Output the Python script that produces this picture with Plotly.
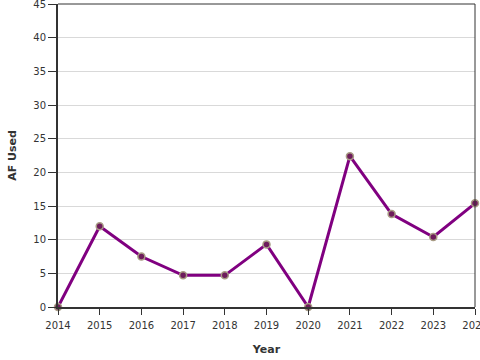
import plotly.graph_objects as go

years = [2014, 2015, 2016, 2017, 2018, 2019, 2020, 2021, 2022, 2023, 2024]
af_used = [0, 12.0, 7.5, 4.7, 4.7, 9.3, 0, 22.4, 13.8, 10.4, 15.4]
y_ticks = [0, 5, 10, 15, 20, 25, 30, 35, 40, 45]

fig = go.Figure()
fig.add_trace(go.Scatter(
    x=years, y=af_used, mode="lines+markers",
    line=dict(color="#800080", width=3),
    marker=dict(size=7, color="#6e1c5c", line=dict(color="#a89c84", width=1.5)),
    cliponaxis=False, hoverinfo="x+y",
))

font = "DejaVu Sans, Verdana, sans-serif"
fig.update_layout(
    width=480, height=360,
    margin=dict(l=58, r=5, t=4, b=53, autoexpand=False),
    paper_bgcolor="white", plot_bgcolor="white",
    showlegend=False,
    font=dict(family=font, size=10, color="#333"),
    xaxis=dict(
        range=[2014, 2024], tickvals=years, ticktext=[str(y) for y in years],
        automargin=False, ticklabeloverflow="allow", ticklabelstandoff=2,
        showgrid=False, zeroline=False,
        showline=True, linewidth=2, linecolor="#333",
        ticks="outside", ticklen=6, tickwidth=1, tickcolor="#333",
        title=dict(text="<b>Year</b>", font=dict(size=11, color="#333"), standoff=15),
    ),
    yaxis=dict(
        range=[0, 45], tickvals=y_ticks,
        automargin=False, ticklabeloverflow="allow",
        showgrid=True, gridcolor="#d9d9d9", gridwidth=1, zeroline=False,
        showline=True, linewidth=2, linecolor="#333",
        ticks="outside", ticklen=8, tickwidth=1, tickcolor="#333",
        title=dict(text="<b>AF Used</b>", font=dict(size=11, color="#333"), standoff=14),
    ),
    shapes=[
        dict(type="line", xref="paper", yref="paper", x0=0, x1=1, y0=1, y1=1,
             line=dict(color="#333", width=1)),
        dict(type="line", xref="paper", yref="paper", x0=1, x1=1, y0=0, y1=1,
             line=dict(color="#333", width=1)),
    ],
)

fig.write_html("out.html", config={"displayModeBar": False},
               post_script="document.body.style.margin='0';")
